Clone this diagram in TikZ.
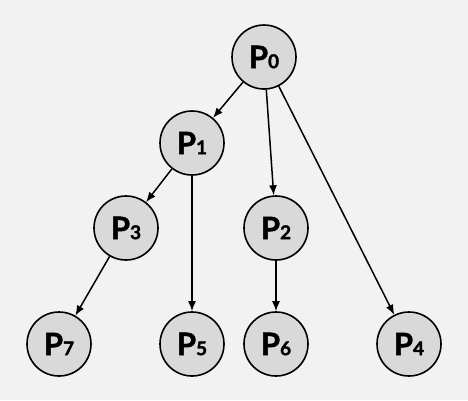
\documentclass[tikz,border=0pt]{standalone}
\usepackage{fontspec}
\setmainfont{Lato}[BoldFeatures={FakeBold=1.6}]
\usetikzlibrary{arrows.meta}
\definecolor{bggray}{HTML}{F2F2F2}
\definecolor{nodegray}{HTML}{D9D9D9}
\newcommand{\pname}[1]{{\fontsize{31}{31}\selectfont\bfseries P}{\fontsize{19}{19}\selectfont\bfseries #1}}
\begin{document}
\begin{tikzpicture}[x=1pt,y=-1pt,
    proc/.style={circle,draw,line width=1.6pt,fill=nodegray,minimum size=64pt,inner sep=0pt},
    edge/.style={line width=1.5pt,-{Latex[length=10pt,width=8pt]}}]
        \fill[bggray] (0,0) rectangle (468,400);
        \node[proc] (p0) at (264,57) {\pname{0}};
        \node[proc] (p1) at (192,143) {\pname{1}};
        \node[proc] (p3) at (126,228) {\pname{3}};
        \node[proc] (p2) at (276,228) {\pname{2}};
        \node[proc] (p7) at (59,344) {\pname{7}};
        \node[proc] (p5) at (192,344) {\pname{5}};
        \node[proc] (p6) at (276,344) {\pname{6}};
        \node[proc] (p4) at (409,344) {\pname{4}};
        \draw[edge] (p0) -- (p1);
        \draw[edge] (p0) -- (p2);
        \draw[edge] (p0) -- (p4);
        \draw[edge] (p1) -- (p3);
        \draw[edge] (p1) -- (p5);
        \draw[edge] (p3) -- (p7);
        \draw[edge] (p2) -- (p6);
\end{tikzpicture}
\end{document}
